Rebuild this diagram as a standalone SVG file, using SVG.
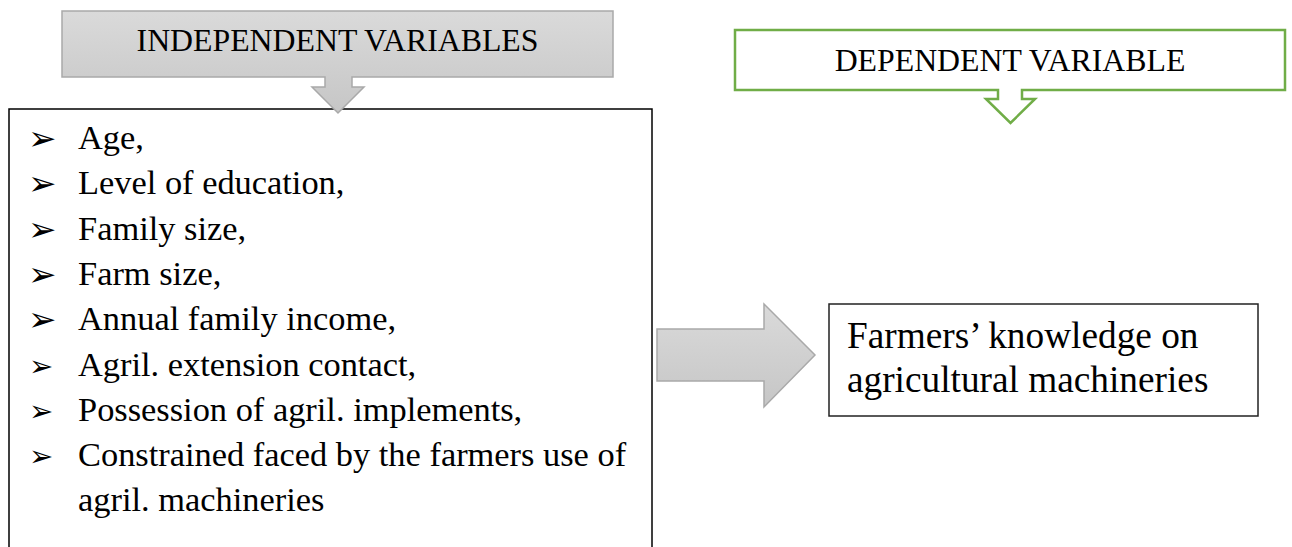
<svg xmlns="http://www.w3.org/2000/svg" width="1292" height="547" viewBox="0 0 1292 547">
  <defs>
    <linearGradient id="grayFill" x1="0" y1="0" x2="0" y2="1">
      <stop offset="0" stop-color="#dadada"/>
      <stop offset="1" stop-color="#c6c6c6"/>
    </linearGradient>
    <style>
      .t { font-family: "Liberation Serif", "Times New Roman", serif; fill: #000; }
      .title { font-size: 31.8px; text-anchor: middle; }
      .item { font-size: 34.4px; }
      .big { font-size: 37.3px; }
      .bul { font-family: "DejaVu Sans", sans-serif; fill: #000; }
      .box { fill: #fff; stroke: #000; stroke-width: 1.5; }
      .gray { fill: url(#grayFill); stroke: #a9a9a9; stroke-width: 1.5; }
    </style>
  </defs>
  <rect width="1292" height="547" fill="#fff"/>

  <g id="independent-list">
    <rect class="box" x="9" y="109" width="643" height="460"/>
    <g class="bul">
      <text x="28" y="150" font-size="34">➢</text>
      <text x="28" y="195.3" font-size="34">➢</text>
      <text x="28" y="240.6" font-size="34">➢</text>
      <text x="28" y="285.9" font-size="34">➢</text>
      <text x="28" y="331.2" font-size="34">➢</text>
      <text x="29" y="375.5" font-size="29">➢</text>
      <text x="29" y="420.8" font-size="29">➢</text>
      <text x="29" y="466" font-size="29">➢</text>
    </g>
    <text class="t item" x="78" y="149">Age,</text>
    <text class="t item" x="78" y="194.3">Level of education,</text>
    <text class="t item" x="78" y="239.6">Family size,</text>
    <text class="t item" x="78" y="284.9">Farm size,</text>
    <text class="t item" x="78" y="330.2">Annual family income,</text>
    <text class="t item" x="78" y="375.5">Agril. extension contact,</text>
    <text class="t item" x="78" y="420.8">Possession of agril. implements,</text>
    <text class="t item" x="78" y="466">Constrained faced by the farmers use of</text>
    <text class="t item" x="78" y="511.3">agril. machineries</text>
  </g>

  <g id="independent-header">
    <path class="gray" d="M62,11 H613 V77 H352 V87 H364 L338,113 L312,87 H325 V77 H62 Z"/>
    <text class="t title" x="337.5" y="51">INDEPENDENT VARIABLES</text>
  </g>

  <g id="dependent-header">
    <path d="M735,30 H1285 V90 H1022 V99 H1035 L1010.5,123 L986,99 H998 V90 H735 Z" fill="#fff" stroke="#70ad47" stroke-width="2.5"/>
    <text class="t title" x="1010" y="71">DEPENDENT VARIABLE</text>
  </g>

  <g id="dependent-box">
    <rect x="829" y="304" width="429" height="112" fill="#fff" stroke="#222" stroke-width="1.5"/>
    <text class="t big" x="847" y="348">Farmers’ knowledge on</text>
    <text class="t big" x="847" y="392">agricultural machineries</text>
  </g>

  <g id="connectors">
    <path class="gray" stroke="#bdbdbd" d="M657,329 H764 V304 L815,355 L764,407 V381 H657 Z"/>
  </g>
</svg>
